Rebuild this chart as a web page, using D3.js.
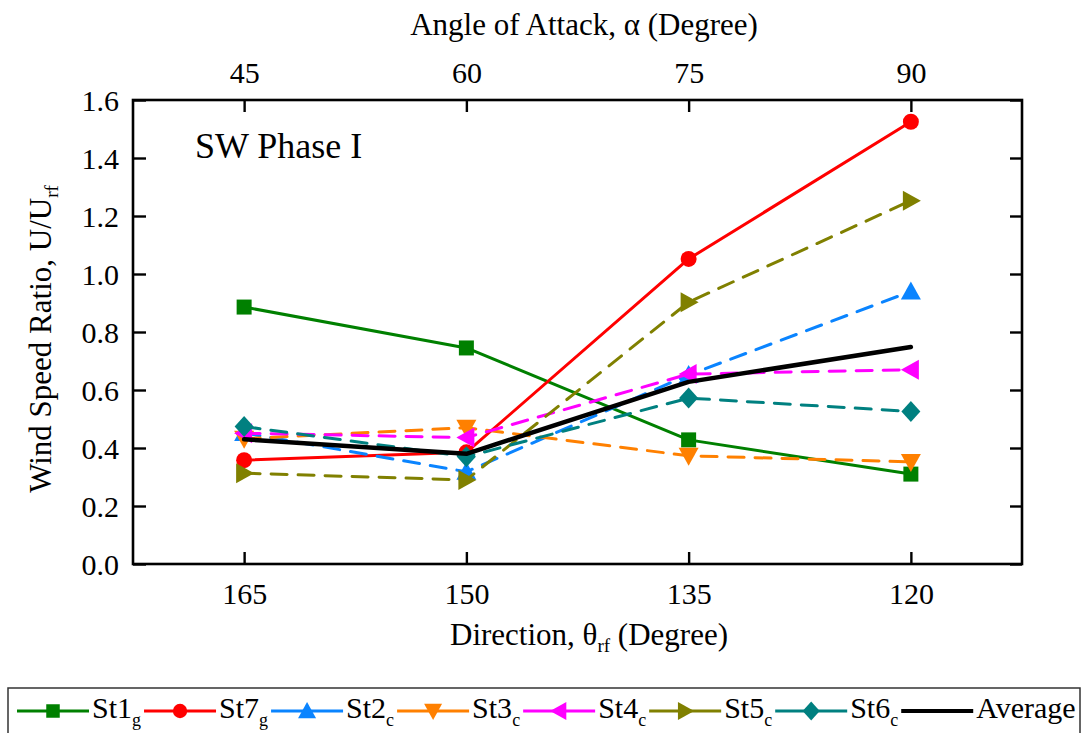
<!DOCTYPE html>
<html>
<head>
<meta charset="utf-8">
<script src="https://cdn.jsdelivr.net/npm/d3@7"></script>
<style>
  html, body { margin: 0; padding: 0; background: #fff; }
</style>
</head>
<body>
<svg id="chart" width="1086" height="733"></svg>
<script>
// Wind direction (bottom axis) and matching angle of attack (top axis)
const directions = [165, 150, 135, 120];
const attackAngles = [45, 60, 75, 90];
const yTicks = [0, 0.2, 0.4, 0.6, 0.8, 1.0, 1.2, 1.4, 1.6];

// Wind speed ratio U/Urf per station
const st1g = [0.886, 0.745, 0.428, 0.310];
const st7g = [0.358, 0.385, 1.052, 1.525];
const st2c = [0.452, 0.318, 0.652, 0.940];
const st3c = [0.432, 0.470, 0.373, 0.352];
const st4c = [0.451, 0.436, 0.655, 0.670];
const st5c = [0.313, 0.290, 0.903, 1.253];
const st6c = [0.474, 0.370, 0.572, 0.526];
const average = [0.430, 0.380, 0.628, 0.748];

const series = [
  { name: "St1", sub: "g", values: st1g, color: "#008000", dashed: false, marker: "square" },
  { name: "St7", sub: "g", values: st7g, color: "#ff0000", dashed: false, marker: "circle" },
  { name: "St2", sub: "c", values: st2c, color: "#0a84ff", dashed: true, marker: "triUp" },
  { name: "St3", sub: "c", values: st3c, color: "#ff8000", dashed: true, marker: "triDown" },
  { name: "St4", sub: "c", values: st4c, color: "#ff00ff", dashed: true, marker: "triLeft" },
  { name: "St5", sub: "c", values: st5c, color: "#808000", dashed: true, marker: "triRight" },
  { name: "St6", sub: "c", values: st6c, color: "#008080", dashed: true, marker: "diamond" },
  { name: "Average", sub: "", values: average, color: "#000000", dashed: false, marker: null, width: 4.5 }
];

const FONT = '"Liberation Serif"';
const svg = d3.select("#chart");
const plot = { left: 133, right: 1022, top: 100, bottom: 564 };

const x = d3.scaleLinear().domain([172.5, 112.5]).range([plot.left, plot.right]);
const xTop = d3.scaleLinear().domain([37.5, 97.5]).range([plot.left, plot.right]);
const y = d3.scaleLinear().domain([0, 1.6]).range([plot.bottom, plot.top]);

// Marker shapes centred on (0,0)
function markerPath(kind) {
  switch (kind) {
    case "square": return "M-7.5,-7.5H7.5V7.5H-7.5Z";
    case "circle": return d3.symbol(d3.symbolCircle, 200)();
    case "triUp": return "M0,-10L10,8L-10,8Z";
    case "triDown": return "M0,10L10,-8L-10,-8Z";
    case "triLeft": return "M-10,0L8,-10L8,10Z";
    case "triRight": return "M10,0L-8,-10L-8,10Z";
    case "diamond": return "M0,-10.5L9.5,0L0,10.5L-9.5,0Z";
  }
  return null;
}

// Axes with inward ticks
const fontTick = 30;
const axB = svg.append("g").attr("transform", `translate(0,${plot.bottom})`)
  .call(d3.axisBottom(x).tickValues(directions).tickSizeInner(-12).tickSizeOuter(0).tickPadding(19).tickFormat(d3.format("d")));
const axT = svg.append("g").attr("transform", `translate(0,${plot.top})`)
  .call(d3.axisTop(xTop).tickValues(attackAngles).tickSizeInner(-12).tickSizeOuter(0).tickPadding(17).tickFormat(d3.format("d")));
const axL = svg.append("g").attr("transform", `translate(${plot.left},0)`)
  .call(d3.axisLeft(y).tickValues(yTicks).tickSizeInner(-13).tickSizeOuter(0).tickPadding(14).tickFormat(d3.format(".1f")));
const axR = svg.append("g").attr("transform", `translate(${plot.right},0)`)
  .call(d3.axisRight(y).tickValues(yTicks).tickSizeInner(-12).tickSizeOuter(0).tickFormat(""));

[axB, axT, axL, axR].forEach(a => {
  a.attr("font-family", null);
  a.select(".domain").remove();
  a.selectAll(".tick line").attr("stroke", "#000").attr("stroke-width", 2.4);
  a.selectAll(".tick text").attr("fill", "#000").attr("font-size", fontTick)
    .style("font-family", FONT);
});
axL.selectAll(".tick text").attr("dy", "0.34em");

// Frame
svg.append("rect")
  .attr("x", plot.left).attr("y", plot.top)
  .attr("width", plot.right - plot.left).attr("height", plot.bottom - plot.top)
  .attr("fill", "none").attr("stroke", "#000").attr("stroke-width", 2.6);

// Series lines and markers
const line = d3.line().x((d, i) => x(directions[i])).y(d => y(d));
series.forEach(s => {
  const g = svg.append("g");
  g.append("path")
    .attr("d", line(s.values))
    .attr("fill", "none")
    .attr("stroke", s.color)
    .attr("stroke-width", s.width || 3)
    .attr("stroke-linecap", "round")
    .attr("stroke-linejoin", "round")
    .attr("stroke-dasharray", s.dashed ? "16,11" : null);
  if (s.marker) {
    g.selectAll("path.mk").data(s.values).join("path")
      .attr("class", "mk")
      .attr("d", markerPath(s.marker))
      .attr("transform", (d, i) => `translate(${x(directions[i])},${y(d)})`)
      .attr("fill", s.color);
  }
});

function addText(sel) { return sel.append("text").style("font-family", FONT).attr("fill", "#000"); }

// Panel label
addText(svg).attr("x", 195).attr("y", 158).attr("font-size", 36).text("SW Phase I");

// Axis titles
addText(svg).attr("x", 584).attr("y", 35).attr("text-anchor", "middle").attr("font-size", 31)
  .text("Angle of Attack, α (Degree)");

const tBot = addText(svg).attr("x", 589).attr("y", 645).attr("text-anchor", "middle").attr("font-size", 31);
tBot.append("tspan").text("Direction, θ");
tBot.append("tspan").attr("font-size", 19).attr("dy", 7).text("rf");
tBot.append("tspan").attr("dy", -7).text(" (Degree)");

const tLeft = addText(svg).attr("transform", "translate(51,339) rotate(-90)")
  .attr("text-anchor", "middle").attr("font-size", 31);
tLeft.append("tspan").text("Wind Speed Ratio, U/U");
tLeft.append("tspan").attr("font-size", 19).attr("dy", 7).text("rf");

// Legend
const legend = svg.append("g");
legend.append("rect")
  .attr("x", 8).attr("y", 688).attr("width", 1072).attr("height", 80)
  .attr("fill", "#fff").attr("stroke", "#333").attr("stroke-width", 1.5);

let lx = 17;
const ly = 711;
series.forEach(s => {
  const lineLen = 72;
  legend.append("line")
    .attr("x1", lx).attr("x2", lx + lineLen).attr("y1", ly).attr("y2", ly)
    .attr("stroke", s.color).attr("stroke-width", s.width ? 4 : 3);
  if (s.marker) {
    legend.append("path").attr("d", markerPath(s.marker))
      .attr("transform", `translate(${lx + lineLen / 2},${ly}) scale(0.9)`)
      .attr("fill", s.color);
  }
  const t = addText(legend).attr("x", lx + lineLen + 3).attr("y", 718).attr("font-size", 30);
  t.append("tspan").text(s.name);
  if (s.sub) t.append("tspan").attr("font-size", 18).attr("dy", 8).text(s.sub);
  lx = lx + lineLen + 3 + t.node().getComputedTextLength() + 3;
});
</script>
</body>
</html>
